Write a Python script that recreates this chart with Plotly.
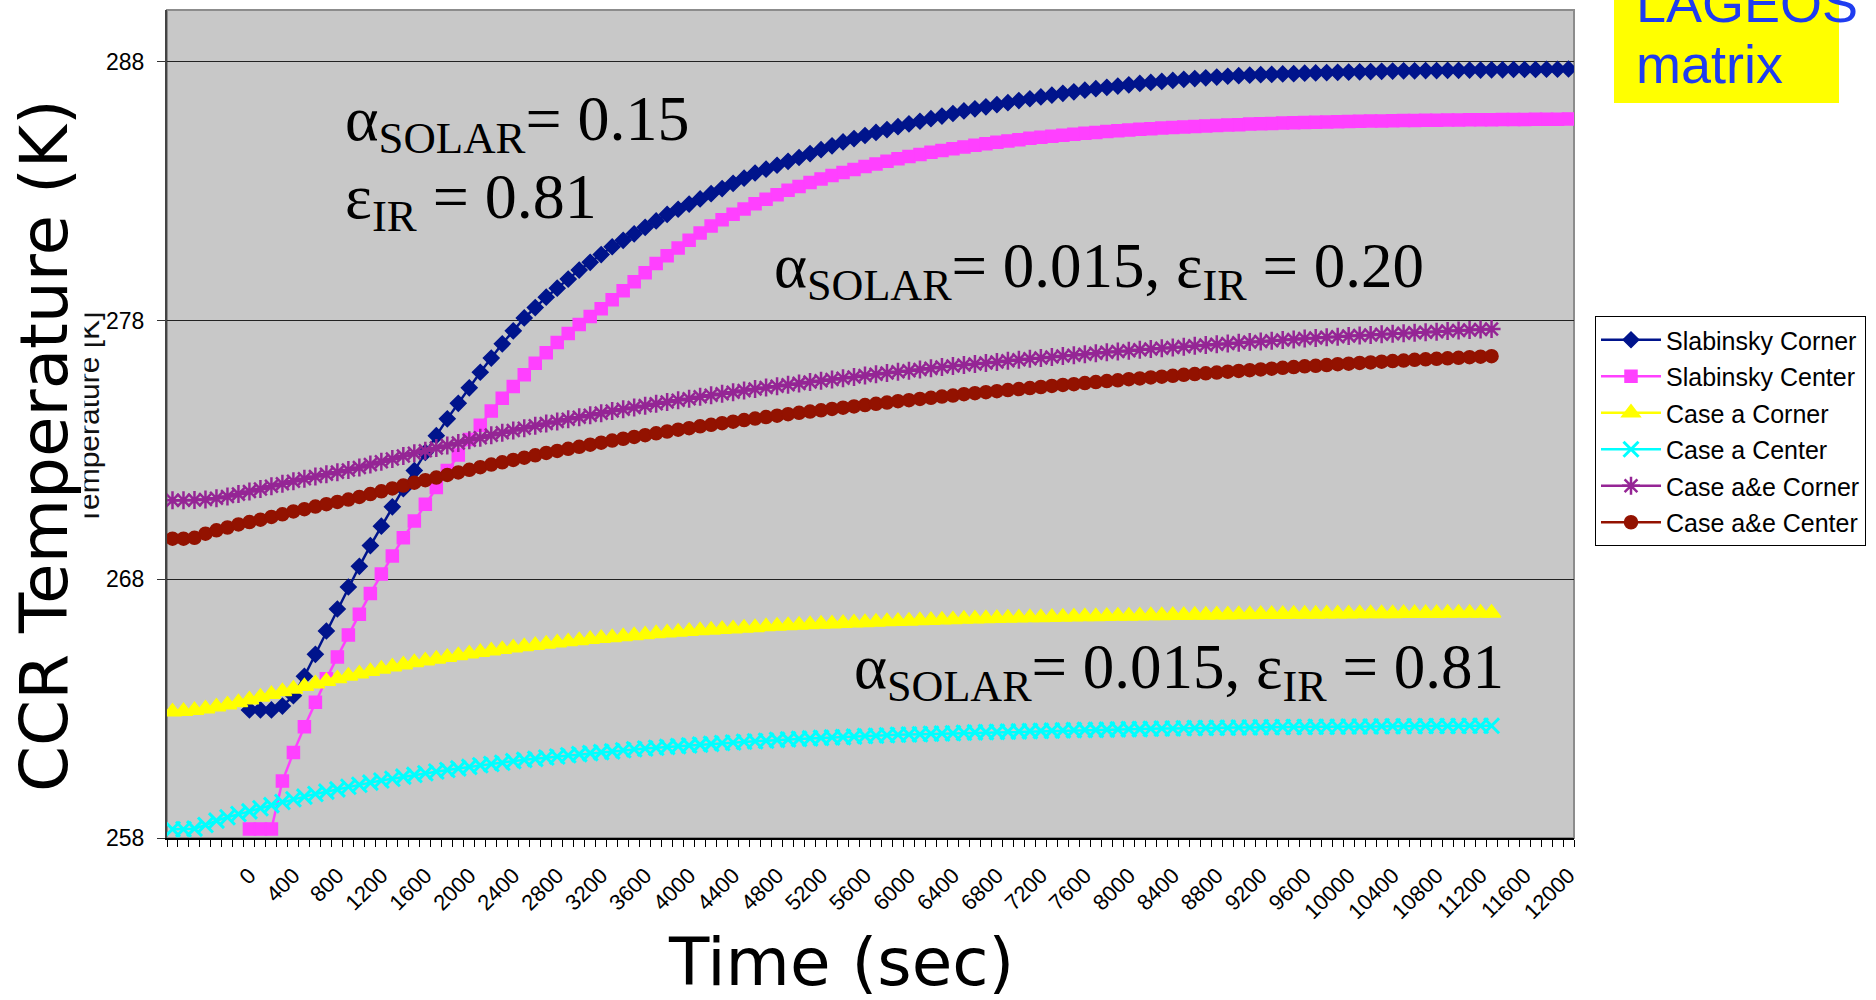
import plotly.graph_objects as go

# ---------------- data ----------------
slab_time = list(range(0, 12001, 100))      # Slabinsky series time (s)
case_time = list(range(-700, 11301, 100))   # Case series time (s), plotted offset as in source

slab_corner = [
    262.95, 262.95, 262.95, 263.1, 263.5, 264.25, 265.1, 266.0, 266.85, 267.7,
    268.5, 269.3, 270.05, 270.8, 271.5, 272.2, 272.9, 273.55, 274.2, 274.8,
    275.4, 276.0, 276.55, 277.1, 277.6, 278.1, 278.5, 278.9, 279.25, 279.6,
    279.95, 280.25, 280.55, 280.85, 281.1, 281.35, 281.6, 281.85, 282.1, 282.3,
    282.5, 282.7, 282.9, 283.1, 283.3, 283.5, 283.7, 283.85, 284.0, 284.15,
    284.3, 284.45, 284.6, 284.75, 284.9, 285.03, 285.15, 285.27, 285.38, 285.49,
    285.6, 285.7, 285.8, 285.9, 286.0, 286.1, 286.18, 286.26, 286.34, 286.42,
    286.5, 286.57, 286.64, 286.71, 286.78, 286.84, 286.9, 286.96, 287.01, 287.06,
    287.11, 287.16, 287.2, 287.24, 287.28, 287.32, 287.35, 287.38, 287.41, 287.44,
    287.46, 287.48, 287.5, 287.51, 287.53, 287.54, 287.56, 287.57, 287.58, 287.59,
    287.6, 287.61, 287.62, 287.63, 287.64, 287.65, 287.65, 287.66, 287.66, 287.67,
    287.67, 287.68, 287.68, 287.69, 287.69, 287.7, 287.7, 287.7, 287.71, 287.71,
    287.72,
]
slab_center = [
    258.35, 258.35, 258.35, 260.2, 261.3, 262.3, 263.25, 264.15, 265.0, 265.85,
    266.65, 267.45, 268.2, 268.9, 269.6, 270.25, 270.9, 271.55, 272.2, 272.8,
    273.4, 273.95, 274.5, 275.0, 275.45, 275.9, 276.35, 276.75, 277.15, 277.5,
    277.85, 278.15, 278.45, 278.8, 279.15, 279.5, 279.85, 280.2, 280.5, 280.8,
    281.1, 281.38, 281.65, 281.89, 282.11, 282.31, 282.51, 282.69, 282.86, 283.03,
    283.18, 283.33, 283.47, 283.6, 283.72, 283.84, 283.95, 284.05, 284.15, 284.25,
    284.34, 284.42, 284.5, 284.57, 284.64, 284.71, 284.77, 284.83, 284.89, 284.94,
    284.99, 285.04, 285.08, 285.12, 285.16, 285.2, 285.24, 285.27, 285.3, 285.33,
    285.36, 285.39, 285.41, 285.44, 285.46, 285.48, 285.5, 285.52, 285.54, 285.56,
    285.57, 285.59, 285.6, 285.61, 285.63, 285.64, 285.65, 285.66, 285.67, 285.68,
    285.69, 285.7, 285.71, 285.71, 285.72, 285.73, 285.73, 285.74, 285.74, 285.75,
    285.75, 285.76, 285.76, 285.76, 285.77, 285.77, 285.77, 285.78, 285.78, 285.78,
    285.79,
]
case_a_corner = [
    262.88, 262.9, 262.94, 263.0, 263.07, 263.15, 263.24, 263.34, 263.45, 263.56,
    263.66, 263.76, 263.86, 263.96, 264.06, 264.16, 264.26, 264.35, 264.44, 264.53,
    264.62, 264.7, 264.78, 264.85, 264.92, 264.99, 265.05, 265.12, 265.18, 265.24,
    265.29, 265.35, 265.4, 265.45, 265.5, 265.55, 265.59, 265.63, 265.68, 265.72,
    265.75, 265.79, 265.83, 265.86, 265.9, 265.93, 265.96, 265.99, 266.02, 266.04,
    266.07, 266.09, 266.12, 266.14, 266.17, 266.19, 266.21, 266.23, 266.25, 266.27,
    266.28, 266.3, 266.32, 266.33, 266.35, 266.37, 266.38, 266.39, 266.41, 266.42,
    266.43, 266.44, 266.46, 266.47, 266.48, 266.49, 266.5, 266.51, 266.52, 266.52,
    266.53, 266.54, 266.55, 266.56, 266.56, 266.57, 266.58, 266.58, 266.59, 266.6,
    266.6, 266.61, 266.61, 266.62, 266.62, 266.63, 266.63, 266.64, 266.64, 266.65,
    266.65, 266.65, 266.66, 266.66, 266.66, 266.67, 266.67, 266.67, 266.68, 266.68,
    266.68, 266.68, 266.69, 266.69, 266.69, 266.69, 266.7, 266.7, 266.7, 266.7,
    266.7,
]
case_a_center = [
    258.34, 258.34, 258.36, 258.5, 258.67, 258.8, 258.93, 259.03, 259.15, 259.27,
    259.39, 259.5, 259.6, 259.7, 259.79, 259.88, 259.98, 260.06, 260.14, 260.22,
    260.29, 260.37, 260.44, 260.5, 260.57, 260.63, 260.69, 260.75, 260.81, 260.86,
    260.91, 260.97, 261.02, 261.06, 261.11, 261.15, 261.2, 261.24, 261.28, 261.32,
    261.35, 261.39, 261.43, 261.46, 261.49, 261.52, 261.55, 261.58, 261.61, 261.64,
    261.67, 261.69, 261.72, 261.74, 261.76, 261.79, 261.81, 261.83, 261.85, 261.87,
    261.89, 261.9, 261.92, 261.94, 261.95, 261.97, 261.99, 262.0, 262.01, 262.03,
    262.04, 262.05, 262.07, 262.08, 262.09, 262.1, 262.11, 262.12, 262.13, 262.14,
    262.15, 262.16, 262.17, 262.18, 262.18, 262.19, 262.2, 262.21, 262.21, 262.22,
    262.23, 262.23, 262.24, 262.25, 262.25, 262.26, 262.26, 262.27, 262.27, 262.28,
    262.28, 262.29, 262.29, 262.29, 262.3, 262.3, 262.3, 262.31, 262.31, 262.31,
    262.32, 262.32, 262.32, 262.32, 262.33, 262.33, 262.33, 262.33, 262.34, 262.34,
    262.34,
]
case_ae_corner = [
    271.05, 271.05, 271.06, 271.08, 271.13, 271.2, 271.29, 271.39, 271.49, 271.59,
    271.69, 271.79, 271.88, 271.97, 272.06, 272.14, 272.22, 272.32, 272.43, 272.54,
    272.65, 272.76, 272.87, 272.97, 273.07, 273.17, 273.27, 273.37, 273.47, 273.57,
    273.66, 273.75, 273.84, 273.93, 274.02, 274.1, 274.18, 274.26, 274.34, 274.42,
    274.5, 274.57, 274.64, 274.71, 274.78, 274.85, 274.92, 274.98, 275.05, 275.11,
    275.17, 275.23, 275.29, 275.35, 275.41, 275.46, 275.52, 275.57, 275.62, 275.67,
    275.72, 275.77, 275.82, 275.87, 275.92, 275.97, 276.02, 276.06, 276.11, 276.15,
    276.2, 276.24, 276.28, 276.32, 276.36, 276.4, 276.44, 276.48, 276.52, 276.55,
    276.59, 276.63, 276.66, 276.7, 276.73, 276.77, 276.8, 276.83, 276.87, 276.9,
    276.93, 276.96, 276.99, 277.02, 277.05, 277.08, 277.11, 277.14, 277.17, 277.19,
    277.22, 277.25, 277.27, 277.3, 277.32, 277.35, 277.37, 277.4, 277.42, 277.44,
    277.47, 277.49, 277.51, 277.53, 277.55, 277.57, 277.59, 277.61, 277.63, 277.65,
    277.67,
]
case_ae_center = [
    269.57, 269.57, 269.6, 269.76, 269.89, 270.0, 270.12, 270.21, 270.3, 270.41,
    270.51, 270.62, 270.71, 270.81, 270.9, 270.99, 271.08, 271.18, 271.29, 271.4,
    271.51, 271.62, 271.73, 271.83, 271.93, 272.03, 272.13, 272.23, 272.33, 272.43,
    272.52, 272.61, 272.7, 272.79, 272.88, 272.96, 273.04, 273.12, 273.2, 273.28,
    273.36, 273.43, 273.5, 273.57, 273.64, 273.71, 273.78, 273.84, 273.91, 273.97,
    274.03, 274.09, 274.15, 274.21, 274.27, 274.32, 274.38, 274.43, 274.48, 274.53,
    274.58, 274.63, 274.68, 274.73, 274.78, 274.83, 274.88, 274.92, 274.97, 275.01,
    275.06, 275.1, 275.15, 275.19, 275.23, 275.27, 275.31, 275.35, 275.39, 275.43,
    275.47, 275.51, 275.54, 275.58, 275.62, 275.66, 275.69, 275.73, 275.76, 275.8,
    275.83, 275.86, 275.9, 275.93, 275.96, 275.99, 276.02, 276.05, 276.08, 276.11,
    276.14, 276.17, 276.2, 276.23, 276.25, 276.28, 276.31, 276.33, 276.36, 276.38,
    276.41, 276.43, 276.45, 276.48, 276.5, 276.52, 276.54, 276.56, 276.58, 276.6,
    276.62,
]

x_tick_vals = list(range(0, 12001, 400))
x_tick_text = [str(v) for v in x_tick_vals]
y_tick_vals = [258, 268, 278, 288]

# name, x, y, colour, symbol, size, outline width
series = [
    ("Slabinsky Corner", slab_time, slab_corner, "#00148c", "diamond", 12, 1.5),
    ("Slabinsky Center", slab_time, slab_center, "#ff40ff", "square", 12, 1.5),
    ("Case a Corner", case_time, case_a_corner, "#ffff00", "triangle-up", 16, 1.5),
    ("Case a Center", case_time, case_a_center, "#00ffff", "x-thin", 15, 3),
    ("Case a&e Corner", case_time, case_ae_corner, "#952595", "asterisk", 15, 2.5),
    ("Case a&e Center", case_time, case_ae_center, "#931200", "circle", 13, 1.5),
]

fig = go.Figure()
for name, xs, ys, col, sym, sz, lw in series:
    fig.add_trace(go.Scatter(
        x=xs, y=ys, name=name, mode="lines+markers",
        line=dict(color=col, width=2.5),
        marker=dict(symbol=sym, size=sz, color=col, line=dict(color=col, width=lw)),
        legendgroup=name,
    ))

L, R, T, B = 167, 302, 10, 162
PW, PH = 1876 - L - R, 1000 - T - B


def px(x):
    return (x - L) / PW


def py(y):
    return (1000 - B - y) / PH


fig.update_layout(
    width=1876, height=1000,
    margin=dict(l=L, r=R, t=T, b=B),
    paper_bgcolor="white", plot_bgcolor="#c8c8c8",
    font=dict(family="Liberation Sans, Arial, sans-serif", color="black"),
    showlegend=True,
    legend=dict(
        x=px(1595), y=py(316), xanchor="left", yanchor="top",
        bordercolor="black", borderwidth=1, bgcolor="white",
        font=dict(size=25, family="Liberation Sans, Arial, sans-serif"),
        tracegroupgap=1, itemwidth=60,
    ),
    xaxis=dict(
        range=[-750, 12050], tickmode="array", tickvals=x_tick_vals, ticktext=x_tick_text,
        tickangle=-45, ticks="outside", ticklen=14, tickcolor="rgba(0,0,0,0)",
        tickfont=dict(size=22), showgrid=False, zeroline=False,
        showline=True, linecolor="black", linewidth=2,
        minor=dict(tickmode="linear", tick0=-750, dtick=100, ticks="outside",
                   ticklen=7, tickcolor="black", tickwidth=1, showgrid=False),
    ),
    yaxis=dict(
        range=[258, 290], tickmode="array", tickvals=y_tick_vals,
        ticks="outside", ticklen=8, tickcolor="#333", tickwidth=1,
        tickfont=dict(size=23), ticklabelstandoff=8,
        showgrid=True, gridcolor="#222", gridwidth=1, zeroline=False,
        showline=True, linecolor="#444", linewidth=2,
    ),
)

# plot-area border (top/right in gray)
fig.add_shape(type="rect", xref="paper", yref="paper", x0=0, x1=1, y0=0, y1=1,
              line=dict(color="#8c8c8c", width=2), layer="below")

# LAGEOS matrix yellow box
fig.add_shape(type="rect", xref="paper", yref="paper",
              x0=px(1614), x1=px(1839), y0=py(103), y1=py(-20),
              fillcolor="#ffff00", line=dict(width=0), layer="above")

serif = "Liberation Serif, Times New Roman, serif"
sans_big = "DejaVu Sans, Verdana, sans-serif"
blue = "#1f3cf0"
ann = []
ann.append(dict(text="LAGEOS", x=px(1634), y=py(3), xanchor="left", yanchor="middle",
                font=dict(size=54, color=blue, family="Liberation Sans, Arial")))
ann.append(dict(text="matrix", x=px(1634), y=py(64), xanchor="left", yanchor="middle",
                font=dict(size=54, color=blue, family="Liberation Sans, Arial")))
ann.append(dict(text="α<sub>SOLAR</sub>= 0.15", x=px(343), y=py(123),
                xanchor="left", yanchor="middle", font=dict(size=64, family=serif)))
ann.append(dict(text="ε<sub>IR</sub> = 0.81", x=px(343), y=py(201),
                xanchor="left", yanchor="middle", font=dict(size=64, family=serif)))
ann.append(dict(text="α<sub>SOLAR</sub>= 0.015, ε<sub>IR</sub> = 0.20", x=px(772), y=py(271),
                xanchor="left", yanchor="middle", font=dict(size=63, family=serif)))
ann.append(dict(text="α<sub>SOLAR</sub>= 0.015, ε<sub>IR</sub> = 0.81", x=px(852), y=py(671),
                xanchor="left", yanchor="middle", font=dict(size=63, family=serif)))
ann.append(dict(text="Temperature [K]", x=px(88), y=py(419), textangle=-90,
                xanchor="center", yanchor="middle", font=dict(size=30, color="#111")))
ann.append(dict(text="CCR Temperature (K)", x=px(44), y=py(446), textangle=-90,
                xanchor="center", yanchor="middle", bgcolor="white",
                font=dict(size=66, family=sans_big)))
ann.append(dict(text="Time (sec)", x=px(841), y=py(962), xanchor="center", yanchor="middle",
                font=dict(size=66, family=sans_big)))
for a in ann:
    a.update(xref="paper", yref="paper", showarrow=False)
fig.update_layout(annotations=ann)

fig.write_html("out.html", config={"displayModeBar": False},
               post_script="document.body.style.margin='0px';")
